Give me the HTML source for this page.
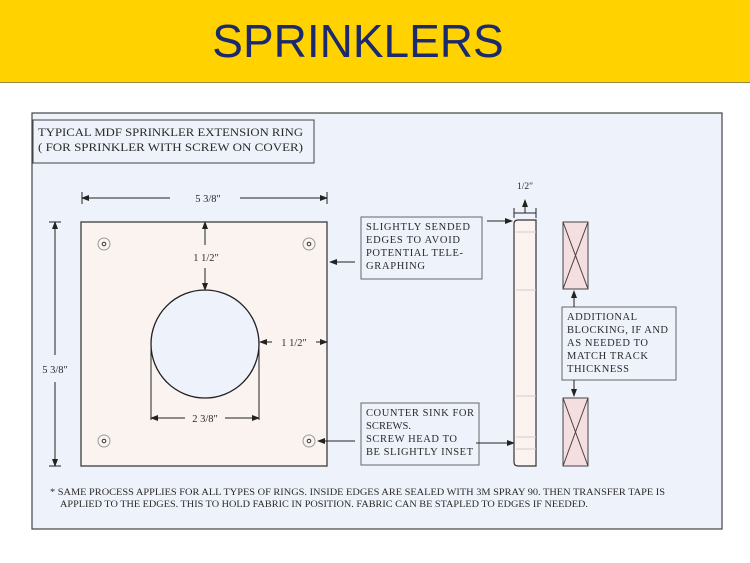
<!DOCTYPE html>
<html><head><meta charset="utf-8"><style>
body{margin:0;width:750px;height:563px;background:#fff;overflow:hidden;font-family:"Liberation Serif",serif}
.hdr{position:absolute;left:0;top:0;width:750px;height:82px;background:#FFD200;border-bottom:1px solid #9a8a40}
.hdr div{position:absolute;left:0;width:716px;top:14px;text-align:center;font-family:"Liberation Sans",sans-serif;font-size:46px;color:#1a2a6c;letter-spacing:0px}
svg{position:absolute;left:0;top:0}
text{font-family:"Liberation Serif",serif;fill:#2a2a2a}
</style></head><body>
<div class="hdr"><div>SPRINKLERS</div></div>
<svg width="750" height="563" viewBox="0 0 750 563">
<defs><marker id="a" markerWidth="8" markerHeight="6" refX="7" refY="3" orient="auto"><path d="M0,0L8,3L0,6z" fill="#222"/></marker></defs>
<rect x="32" y="113" width="690" height="416" fill="#EEF2FA" stroke="#444" stroke-width="1.2"/>
<rect x="33" y="120" width="281" height="43" fill="#EEF2FA" stroke="#444"/>
<text x="38" y="136" font-size="12" textLength="265" lengthAdjust="spacingAndGlyphs">TYPICAL MDF SPRINKLER EXTENSION RING</text>
<text x="38" y="151" font-size="12" textLength="265" lengthAdjust="spacingAndGlyphs">( FOR  SPRINKLER WITH SCREW ON COVER)</text>
<g stroke="#222" fill="none" stroke-width="1">
<rect x="81" y="222" width="246" height="244" fill="#FBF3F0" stroke="#555" stroke-width="1.5"/>
<circle cx="205" cy="344" r="54" fill="#EEF2FA" stroke-width="1.3"/>
<line x1="151" y1="343" x2="151" y2="420"/><line x1="259" y1="343" x2="259" y2="420"/>
<line x1="82" y1="192" x2="82" y2="204"/><line x1="327" y1="192" x2="327" y2="204"/>
<line x1="170" y1="198" x2="82" y2="198" marker-end="url(#a)"/><line x1="240" y1="198" x2="327" y2="198" marker-end="url(#a)"/>
<line x1="49" y1="222" x2="61" y2="222"/><line x1="49" y1="466" x2="61" y2="466"/>
<line x1="55" y1="355" x2="55" y2="222" marker-end="url(#a)"/><line x1="55" y1="382" x2="55" y2="466" marker-end="url(#a)"/>
<line x1="205" y1="245" x2="205" y2="222" marker-end="url(#a)"/><line x1="205" y1="268" x2="205" y2="290" marker-end="url(#a)"/>
<line x1="272" y1="342" x2="260" y2="342" marker-end="url(#a)"/><line x1="316" y1="342" x2="327" y2="342" marker-end="url(#a)"/>
<line x1="185" y1="418" x2="151" y2="418" marker-end="url(#a)"/><line x1="225" y1="418" x2="259" y2="418" marker-end="url(#a)"/>
<g stroke="#999"><circle cx="104" cy="244" r="6"/><circle cx="309" cy="244" r="6"/><circle cx="104" cy="441" r="6"/><circle cx="309" cy="441" r="6"/></g>
<g stroke="#333"><circle cx="104" cy="244" r="1.8"/><circle cx="309" cy="244" r="1.8"/><circle cx="104" cy="441" r="1.8"/><circle cx="309" cy="441" r="1.8"/></g>
<rect x="361" y="217" width="121" height="62" stroke="#666"/>
<rect x="361" y="403" width="118" height="62" stroke="#666"/>
<rect x="562" y="307" width="114" height="73" stroke="#666"/>
<line x1="355" y1="262" x2="330" y2="262" marker-end="url(#a)"/>
<line x1="355" y1="441" x2="318" y2="441" marker-end="url(#a)"/>
<line x1="487" y1="221" x2="512" y2="221" marker-end="url(#a)"/>
<line x1="476" y1="443" x2="514" y2="443" marker-end="url(#a)"/>
<path d="M518,220 H536 V466 H518 Q514,466 514,462 V224 Q514,220 518,220Z" fill="#FBF3F0" stroke="#333" stroke-width="1.2"/>
<g stroke="#ccc"><line x1="516" y1="232" x2="536" y2="232"/><line x1="516" y1="290" x2="536" y2="290"/><line x1="516" y1="396" x2="536" y2="396"/><line x1="516" y1="437" x2="536" y2="437"/><line x1="516" y1="449" x2="536" y2="449"/></g>
<line x1="514" y1="208" x2="514" y2="218"/><line x1="536" y1="208" x2="536" y2="218"/>
<line x1="514" y1="213" x2="536" y2="213"/>
<line x1="525" y1="213" x2="525" y2="200" marker-end="url(#a)"/>
<rect x="563" y="222" width="25" height="67" fill="#F4DEE0" stroke="#444"/>
<path d="M563,222 L588,289 M588,222 L563,289" stroke="#444"/>
<rect x="563" y="398" width="25" height="68" fill="#F4DEE0" stroke="#444"/>
<path d="M563,398 L588,466 M588,398 L563,466" stroke="#444"/>
<line x1="574" y1="307" x2="574" y2="291" marker-end="url(#a)"/>
<line x1="574" y1="380" x2="574" y2="396" marker-end="url(#a)"/>
</g>
<g font-size="10.5">
<text x="208" y="202" text-anchor="middle">5 3/8"</text>
<text x="55" y="373" text-anchor="middle">5 3/8"</text>
<text x="206" y="261" text-anchor="middle">1 1/2"</text>
<text x="294" y="346" text-anchor="middle">1 1/2"</text>
<text x="205" y="422" text-anchor="middle">2 3/8"</text>
<text x="525" y="189" text-anchor="middle" font-size="9.5">1/2"</text>
<text x="366" y="230" textLength="104">SLIGHTLY SENDED</text>
<text x="366" y="243" textLength="94">EDGES TO AVOID</text>
<text x="366" y="256" textLength="97">POTENTIAL TELE-</text>
<text x="366" y="269" textLength="59">GRAPHING</text>
<text x="366" y="416" textLength="108">COUNTER SINK FOR</text>
<text x="366" y="429" textLength="45">SCREWS.</text>
<text x="366" y="442" textLength="91">SCREW  HEAD TO</text>
<text x="366" y="455" textLength="107">BE SLIGHTLY INSET</text>
<text x="567" y="320" textLength="70">ADDITIONAL</text>
<text x="567" y="333" textLength="101">BLOCKING, IF AND</text>
<text x="567" y="346" textLength="81">AS NEEDED TO</text>
<text x="567" y="359" textLength="81">MATCH TRACK</text>
<text x="567" y="372" textLength="62">THICKNESS</text>
</g>
<g font-size="9">
<text x="50" y="495" textLength="615" lengthAdjust="spacingAndGlyphs">*  SAME PROCESS APPLIES FOR ALL TYPES OF RINGS.   INSIDE EDGES ARE SEALED WITH 3M SPRAY 90. THEN TRANSFER TAPE IS</text>
<text x="60" y="507" textLength="528" lengthAdjust="spacingAndGlyphs">APPLIED TO THE EDGES. THIS TO HOLD FABRIC IN POSITION. FABRIC CAN BE STAPLED TO EDGES IF NEEDED.</text>
</g>
</svg>
</body></html>
